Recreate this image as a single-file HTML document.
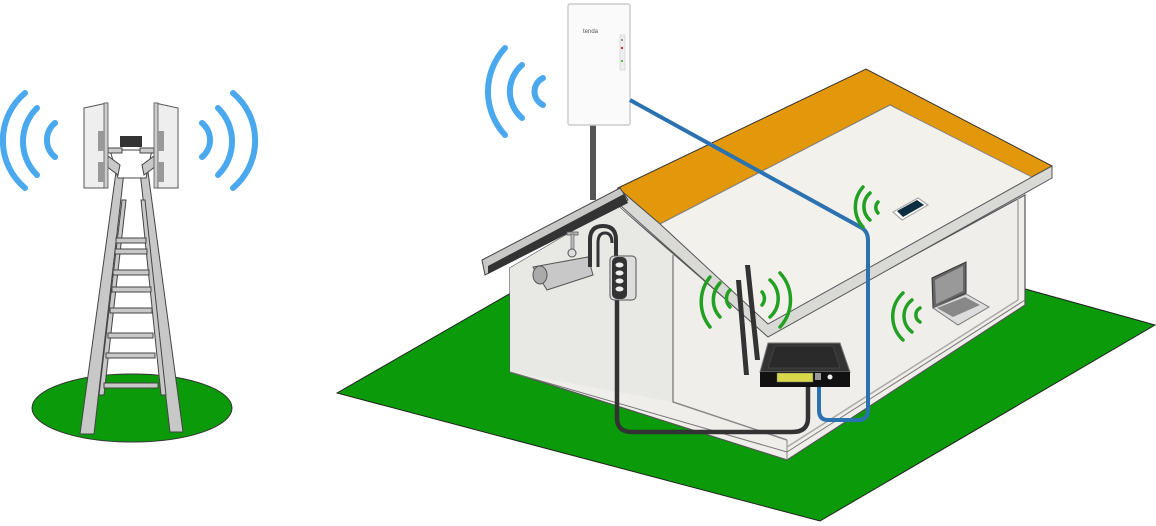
<!DOCTYPE html>
<html><head><meta charset="utf-8"><style>
html,body{margin:0;padding:0;background:#fff;}
svg{display:block;}
</style></head><body>
<svg width="1156" height="526" viewBox="0 0 1156 526" xmlns="http://www.w3.org/2000/svg">
<!-- Tower ground -->
<ellipse cx="132" cy="408" rx="100" ry="34" fill="#0a9a0a" stroke="#333" stroke-width="1"/>
<!-- Tower arcs -->
<g fill="none" stroke="#4aa8ee" stroke-width="6" stroke-linecap="round">
<path d="M25 93 A62 62 0 0 0 25 188"/>
<path d="M37 108 A47 47 0 0 0 37 175"/>
<path d="M55 123 A22 22 0 0 0 55 157"/>
<path d="M233 93 A62 62 0 0 1 233 188"/>
<path d="M218 108 A47 47 0 0 1 218 175"/>
<path d="M202 123 A22 22 0 0 1 202 157"/>
</g>
<!-- Tower legs -->
<g stroke="#444" stroke-width="1" fill="#c8c8c8">
<polygon points="116,172 124,172 94,434 80,434"/>
<polygon points="140,172 148,172 183,432 170,432"/>
<polygon points="122,200 126,200 104,395 99,395"/>
<polygon points="141,200 145,200 166,395 161,395"/>
</g>
<g fill="#c8c8c8" stroke="#444" stroke-width="1">
<rect x="116" y="238" width="30" height="5"/>
<rect x="115" y="249" width="32" height="5"/>
<rect x="113" y="270" width="36" height="5"/>
<rect x="112" y="287" width="39" height="5"/>
<rect x="110" y="308" width="42" height="5"/>
<rect x="108" y="333" width="45" height="5"/>
<rect x="106" y="353" width="49" height="5"/>
<rect x="104" y="383" width="54" height="5"/>
</g>
<!-- Tower head -->
<polygon points="110,150 152,150 146,178 118,178" fill="#fff" stroke="#444" stroke-width="1"/>
<polygon points="108,156 120,165 118,175 106,166" fill="#c8c8c8" stroke="#444"/>
<polygon points="154,156 142,165 144,175 156,166" fill="#c8c8c8" stroke="#444"/>
<rect x="108" y="148" width="14" height="5" fill="#ccc" stroke="#444"/>
<rect x="140" y="148" width="14" height="5" fill="#ccc" stroke="#444"/>
<rect x="120" y="136" width="22" height="11" fill="#333"/>
<polygon points="84,108 107,103 107,188 84,188" fill="#eee" stroke="#555"/>
<rect x="104" y="103" width="4" height="85" fill="#ccc" stroke="#555" stroke-width="0.8"/>
<rect x="98" y="131" width="6" height="20" fill="#999"/><rect x="98" y="162" width="6" height="20" fill="#999"/>
<polygon points="155,103 178,108 178,188 155,188" fill="#eee" stroke="#555"/>
<rect x="154" y="103" width="4" height="85" fill="#ccc" stroke="#555" stroke-width="0.8"/>
<rect x="158" y="131" width="6" height="20" fill="#999"/><rect x="158" y="162" width="6" height="20" fill="#999"/>

<!-- Grass -->
<polygon points="337,393 530,282 1000,282 1155,325 820,521" fill="#0a9a0a" stroke="#222" stroke-width="1"/>
<!-- House walls -->
<polygon points="510,268 617,205 767,335 1025,195 1025,305 787,460 510,372" fill="#efeeea" stroke="#555" stroke-width="1.2"/>
<polygon points="510,268 617,205 673,255 673,402 510,372" fill="#e8e8e4"/>
<polyline points="673,255 673,402 787,440" fill="none" stroke="#888" stroke-width="1.5"/>
<polyline points="787,440 787,460" fill="none" stroke="#888" stroke-width="1"/>
<polyline points="787,447 1018,300 1018,195" fill="none" stroke="#aaa" stroke-width="1.5"/>
<polyline points="510,372 787,452 1025,300" fill="none" stroke="#777" stroke-width="1"/>
<!-- Roof -->
<polygon points="618,188 866,69 1052,166 1030,178 890,105 660,224" fill="#e3970b" stroke="#333" stroke-width="1"/>
<polygon points="660,224 890,105 1032,177 768,325" fill="#f2f1ec" stroke="#888" stroke-width="1"/>
<polygon points="618,188 660,224 768,324 1032,177 1052,166 1052,178 768,337 612,198" fill="#d9d9d6" stroke="#555" stroke-width="1"/>
<!-- Left overhang -->
<polygon points="482,260 620,188 628,200 485,275" fill="#c8c8c6" stroke="#444" stroke-width="1"/>
<polygon points="488,266 624,194 628,203 488,274" fill="#333"/>
<!-- Pole & CPE -->
<rect x="590" y="120" width="6" height="80" fill="#555"/>
<rect x="568" y="4" width="62" height="121" rx="2" fill="#fafafa" stroke="#ccc" stroke-width="1.5"/>
<text x="583" y="33" font-family="Liberation Sans, sans-serif" font-size="6" fill="#555">tenda</text>
<rect x="620" y="35" width="5" height="35" fill="#eee" stroke="#ccc" stroke-width="0.6"/>
<circle cx="622" cy="40" r="1" fill="#777"/><circle cx="622" cy="48" r="1.2" fill="#c33"/><circle cx="622" cy="61" r="1" fill="#3a3"/>
<g fill="none" stroke="#4aa8ee" stroke-width="6" stroke-linecap="round">
<path d="M505 48 A64 64 0 0 0 505 135"/>
<path d="M522 65 A35 35 0 0 0 522 118"/>
<path d="M543 78 A15 15 0 0 0 543 105"/>
</g>
<!-- Camera -->
<rect x="567" y="232" width="11" height="3" fill="#bbb" stroke="#555" stroke-width="0.8"/>
<rect x="571" y="234" width="3" height="20" fill="#bbb" stroke="#555" stroke-width="0.6"/>
<circle cx="572" cy="253" r="4" fill="#ddd" stroke="#555"/>
<polygon points="533,267 588,257 593,275 547,290" fill="#c8c8c8" stroke="#555" stroke-width="1"/>
<ellipse cx="540" cy="275" rx="7" ry="9" fill="#aaa" stroke="#555"/>
<!-- black cable -->
<path d="M617 298 L617 418 Q617 432 632 432 L792 432 Q808 432 808 418 L808 380" fill="none" stroke="#333" stroke-width="4.5"/>
<path d="M590 267 L590 240 Q590 226 603 226 Q616 226 616 240 L616 258" fill="none" stroke="#333" stroke-width="4"/>
<path d="M598 267 L598 243 Q598 233 605 233 Q612 233 612 243" fill="none" stroke="#333" stroke-width="3"/>
<rect x="610" y="256" width="26" height="44" rx="4" fill="#ddd" stroke="#555"/>
<rect x="612" y="257" width="15" height="42" rx="5" fill="#333"/>
<g fill="#eee"><ellipse cx="619.5" cy="265" rx="4" ry="2.5"/><ellipse cx="619.5" cy="273" rx="4" ry="2.5"/><ellipse cx="619.5" cy="281" rx="4" ry="2.5"/><ellipse cx="619.5" cy="289" rx="4" ry="2.5"/></g>
<!-- blue cable -->
<path d="M630 100 L862 228 Q868 232 868 240 L868 410 Q868 420 858 420 L828 420 Q819 420 819 410 L819 380" fill="none" stroke="#2b72b0" stroke-width="4"/>
<!-- Router antennas -->
<polygon points="745,265 750,265 760,360 755,360" fill="#333"/>
<polygon points="736,280 741,280 749,375 744,375" fill="#333"/>
<!-- Router -->
<polygon points="768,343 840,343 850,372 760,372" fill="#333" stroke="#777" stroke-width="1"/>
<polygon points="775,346 833,346 840,368 768,368" fill="#2a2a2a" stroke="#555" stroke-width="0.5"/>
<rect x="760" y="372" width="90" height="15" fill="#111"/>
<rect x="777" y="373" width="36" height="9" fill="#d8d84a" stroke="#666" stroke-width="0.5"/>
<rect x="815" y="373" width="6" height="7" fill="#999"/>
<circle cx="830" cy="377" r="2.5" fill="#eee"/>
<!-- Green arcs -->
<g fill="none" stroke="#22a022" stroke-width="3.5" stroke-linecap="round">
<path d="M710 277 A40 40 0 0 0 710 327"/>
<path d="M720 283 A25 25 0 0 0 720 317"/>
<path d="M730 290 A12 12 0 0 0 730 307"/>
<path d="M780 273 A40 40 0 0 1 780 327"/>
<path d="M770 280 A25 25 0 0 1 770 317"/>
<path d="M762 292 A10 10 0 0 1 762 305"/>
<path d="M863 187 A30 30 0 0 0 863 227"/>
<path d="M870 193 A18 18 0 0 0 870 220"/>
<path d="M878 202 A8 8 0 0 0 878 213"/>
<path d="M903 293 A32 32 0 0 0 903 340"/>
<path d="M912 300 A20 20 0 0 0 912 332"/>
<path d="M920 308 A8 8 0 0 0 920 322"/>
</g>
<!-- Tablet -->
<polygon points="893,212 918,198 928,205 902,220" fill="#fff" stroke="#999"/>
<polygon points="897,211 917,200 924,205 903,217" fill="#0d2d40"/>
<!-- Laptop -->
<polygon points="932,278 966,262 966,293 933,308" fill="#666" stroke="#333"/>
<polygon points="935,280 963,266 963,291 936,304" fill="#999"/>
<polygon points="933,308 966,294 989,307 958,325" fill="#ddd" stroke="#777"/>
<polygon points="937,308 965,297 980,305 953,317" fill="#888"/>
</svg>
</body></html>
